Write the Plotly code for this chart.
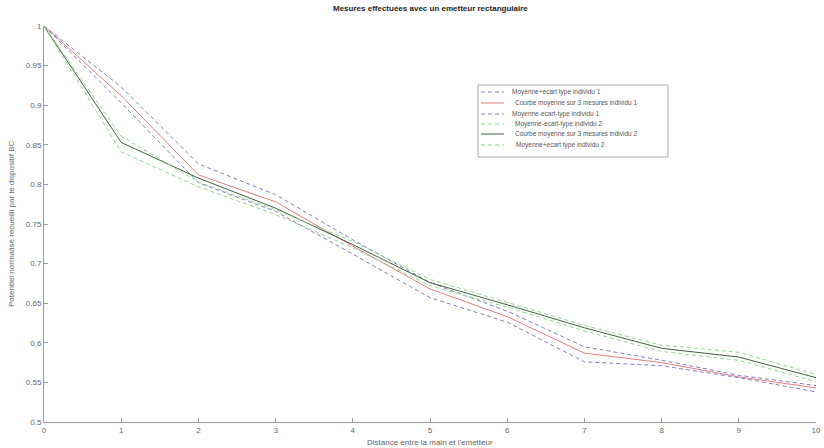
import plotly.graph_objects as go

distance = [0, 1, 2, 3, 4, 5, 6, 7, 8, 9, 10]

ind1_plus = [1.0, 0.923, 0.826, 0.787, 0.730, 0.676, 0.640, 0.595, 0.578, 0.559, 0.546]
ind1_mean = [1.0, 0.912, 0.812, 0.778, 0.722, 0.668, 0.633, 0.587, 0.575, 0.557, 0.543]
ind1_minus = [1.0, 0.903, 0.802, 0.766, 0.712, 0.657, 0.626, 0.576, 0.571, 0.556, 0.538]

ind2_minus = [1.0, 0.841, 0.797, 0.762, 0.720, 0.672, 0.645, 0.615, 0.589, 0.578, 0.551]
ind2_mean = [1.0, 0.853, 0.808, 0.770, 0.724, 0.676, 0.648, 0.619, 0.593, 0.582, 0.556]
ind2_plus = [1.0, 0.861, 0.803, 0.768, 0.728, 0.680, 0.651, 0.622, 0.597, 0.588, 0.560]

names = [
    "Moyenne+ecart type individu 1",
    "Courbe moyenne sur 3 mesures individu 1",
    "Moyenne-ecart-type individu 1",
    " Moyenne-ecart-type individu 2",
    "Courbe moyenne sur 3 mesures individu 2",
    " Moyenne+ecart type individu 2",
]

y_ticks = [0.5, 0.55, 0.6, 0.65, 0.7, 0.75, 0.8, 0.85, 0.9, 0.95, 1.0]
y_ticklabels = ["0.5", "0.55", "0.6", "0.65", "0.7", "0.75", "0.8", "0.85", "0.9", "0.95", "1"]

purple = "#7f7fc4"
red = "#e47f7f"
green_l = "#8fd68f"
green_d = "#3f5f3f"
DASH = "4px,3px"

series = [
    (ind1_plus, purple, DASH),
    (ind1_mean, red, "solid"),
    (ind1_minus, purple, DASH),
    (ind2_minus, green_l, DASH),
    (ind2_mean, green_d, "solid"),
    (ind2_plus, green_l, DASH),
]

W, H = 824, 448
L, R, T, B = 44, 8, 26, 26
PW, PH = W - L - R, H - T - B


def px_x(px):
    return (px - L) / PW


def px_y(py):
    return (H - B - py) / PH


fig = go.Figure()
for (vals, col, dash), nm in zip(series, names):
    fig.add_trace(go.Scatter(x=distance, y=vals, mode="lines", name=nm,
                             line=dict(color=col, width=1, dash=dash)))

axis_font = dict(family="Liberation Sans, Arial", size=8, color="#666666")

annotations = [
    dict(text="<b>Mesures effectuées avec un emetteur rectangulaire</b>", xref="paper", yref="paper",
         x=px_x(430), y=px_y(8), xanchor="center", yanchor="middle", showarrow=False,
         font=dict(family="Liberation Sans, Arial", size=8, color="#222222")),
    dict(text="Distance entre la main et l'emetteur", xref="paper", yref="paper",
         x=px_x(430), y=px_y(442), xanchor="center", yanchor="middle", showarrow=False,
         font=axis_font),
    dict(text="Potentiel normalisé recueilli par le dispositif BC", xref="paper", yref="paper",
         x=px_x(11), y=px_y(224), xanchor="center", yanchor="middle", showarrow=False,
         textangle=-90, font=axis_font),
]

shapes = [
    dict(type="rect", xref="paper", yref="paper", x0=px_x(478), x1=px_x(668),
         y0=px_y(157), y1=px_y(85), line=dict(color="#aaaaaa", width=1), fillcolor="white", layer="above"),
]

entry_y = [92, 103, 114, 124, 134, 145]
text_x = [510, 513, 510, 513, 513, 514]
for (vals, col, dash), nm, ey, tx in zip(series, names, entry_y, text_x):
    shapes.append(dict(type="line", xref="paper", yref="paper", x0=px_x(481), x1=px_x(504),
                       y0=px_y(ey), y1=px_y(ey), line=dict(color=col, width=1, dash=dash), layer="above"))
    annotations.append(dict(text=nm.strip(), xref="paper", yref="paper", x=px_x(tx), y=px_y(ey),
                            xanchor="left", yanchor="middle", showarrow=False,
                            font=dict(family="Liberation Sans, Arial", size=6.5, color="#555555")))

fig.update_layout(
    width=W, height=H,
    margin=dict(l=L, r=R, t=T, b=B, autoexpand=False),
    paper_bgcolor="white", plot_bgcolor="white",
    showlegend=False,
    xaxis=dict(range=[0, 10], tickvals=distance, ticktext=[str(d) for d in distance],
               showgrid=False, zeroline=False, showline=True, linecolor="#999999",
               ticks="inside", ticklen=4, tickcolor="#999999", tickfont=axis_font,
               automargin=False),
    yaxis=dict(range=[0.5, 1.0], tickvals=y_ticks, ticktext=y_ticklabels,
               showgrid=False, zeroline=False, showline=True, linecolor="#999999",
               ticks="inside", ticklen=4, tickcolor="#999999", tickfont=axis_font,
               automargin=False),
    annotations=annotations,
    shapes=shapes,
)

fig.write_html("out.html",
               config={"displayModeBar": False},
               post_script="document.body.style.margin='0';document.body.style.padding='0';"
                           "document.body.style.overflow='hidden';")
